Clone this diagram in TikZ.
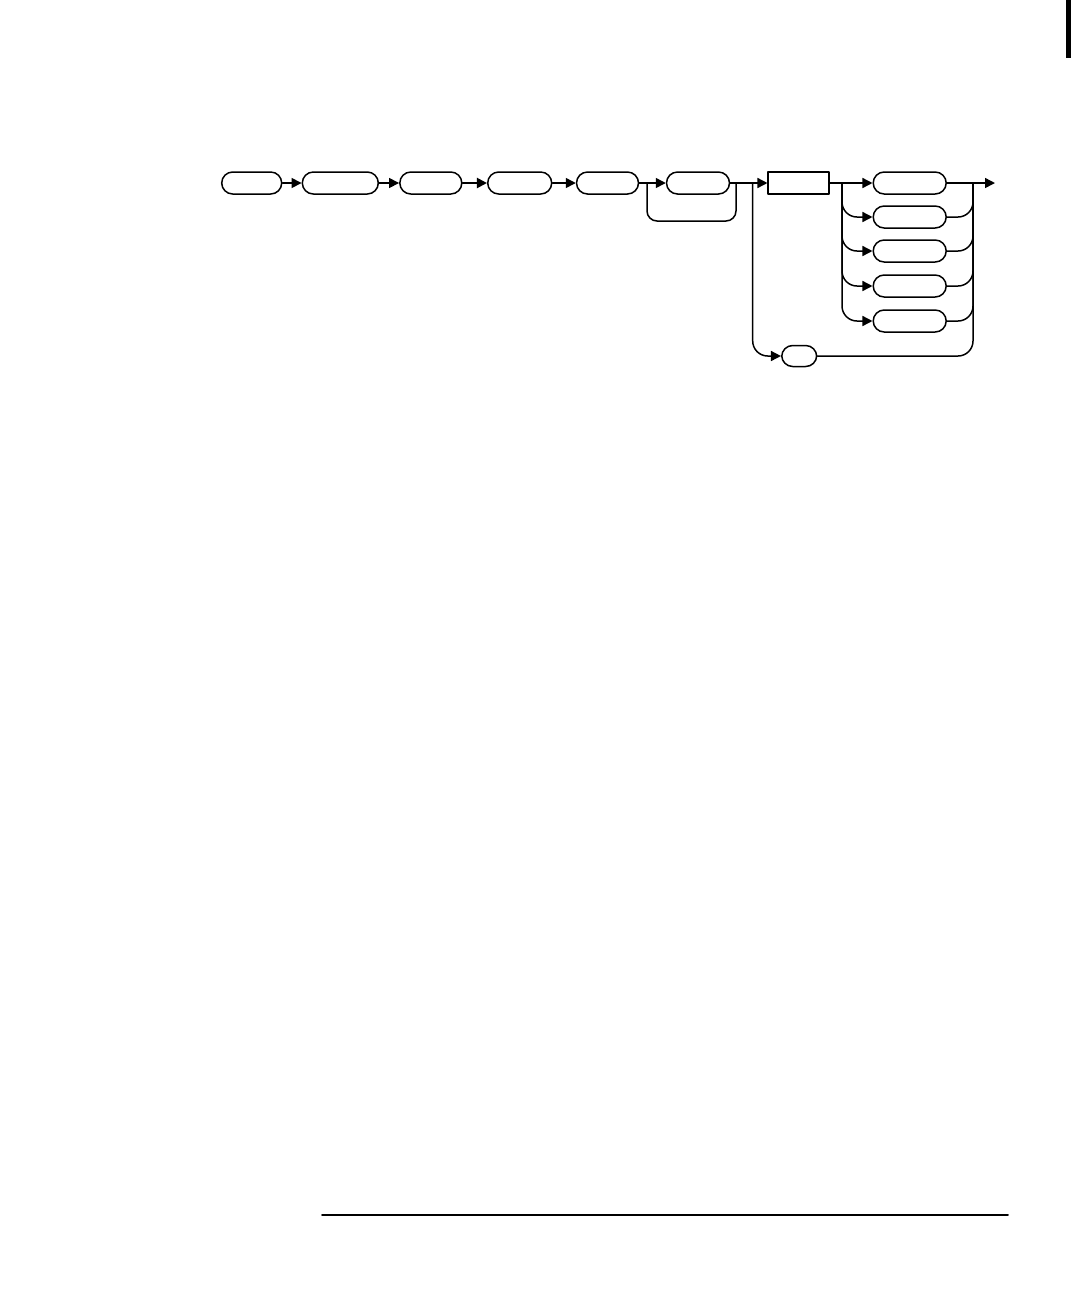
\documentclass[tikz,border=0pt]{standalone}
\usetikzlibrary{arrows.meta}
\begin{document}
\begin{tikzpicture}[x=0.02cm, y=-0.02cm, line cap=round, line join=round, line width=0.85pt,
	term/.style={draw, rounded corners=0.22cm, minimum height=0.44cm, inner sep=0pt},
	nonterm/.style={draw, minimum height=0.44cm, inner sep=0pt},
	arr/.style={-{Triangle[length=0.2cm,width=0.2cm]}}]
	%Page
	\useasboundingbox (0,0) rectangle (1080,1296);
	\fill (1066,0) rectangle (1071,58);
	\draw[line width=1.1pt] (322,1215) coordinate (r1) -- (1008,1215) coordinate (r2);

	%Nodes
	\node[term, minimum width=1.2cm] (n1) at (251.7,183) {};
	\node[term, minimum width=1.52cm] (n2) at (340.3,183) {};
	\node[term, minimum width=1.24cm] (n3) at (430.8,183) {};
	\node[term, minimum width=1.28cm] (n4) at (519.7,183) {};
	\node[term, minimum width=1.24cm] (n5) at (607.5,183) {};
	\node[term, minimum width=1.26cm] (n6) at (698,183) {};
	\node[nonterm, minimum width=1.22cm] (rect) at (798.7,183) {};
	\node[term, minimum width=0.7cm, minimum height=0.42cm] (small) at (799.2,356) {};
	\foreach \i/\y in {1/183,2/217,3/251,4/286,5/321}
		\node[term, minimum width=1.46cm] (o\i) at (909.7,\y) {};

	%Coordinates
	\coordinate (jA) at (647,183);
	\coordinate (jA2) at (736,183);
	\coordinate (jB) at (752.7,183);
	\coordinate (jC) at (842,183);
	\coordinate (jD) at (973,183);
	\coordinate (out) at (995,183);

	%Main line
	\draw[arr] (n1) -- (n2);
	\draw[arr] (n2) -- (n3);
	\draw[arr, line width=1.2pt] (n3) -- (n4);
	\draw[arr] (n4) -- (n5);
	\draw[arr] (n5) -- (n6);
	\draw[arr] (n6) -- (rect);
	\draw[arr] (rect) -- (o1);
	\draw[arr] (o1) -- (out);

	%Bypass round n6
	\draw[rounded corners=0.2cm] (jA) -- ++(0,38) -| (jA2);

	%Branches
	\draw[arr, rounded corners=0.3cm] (jB) |- (small.west);
	\draw[rounded corners=0.3cm] (small.east) -| (jD);
	\foreach \i in {2,...,5}{
		\draw[arr, rounded corners=0.3cm] (jC) |- (o\i.west);
		\draw[rounded corners=0.3cm] (o\i.east) -| (jD);
	}
\end{tikzpicture}
\end{document}
